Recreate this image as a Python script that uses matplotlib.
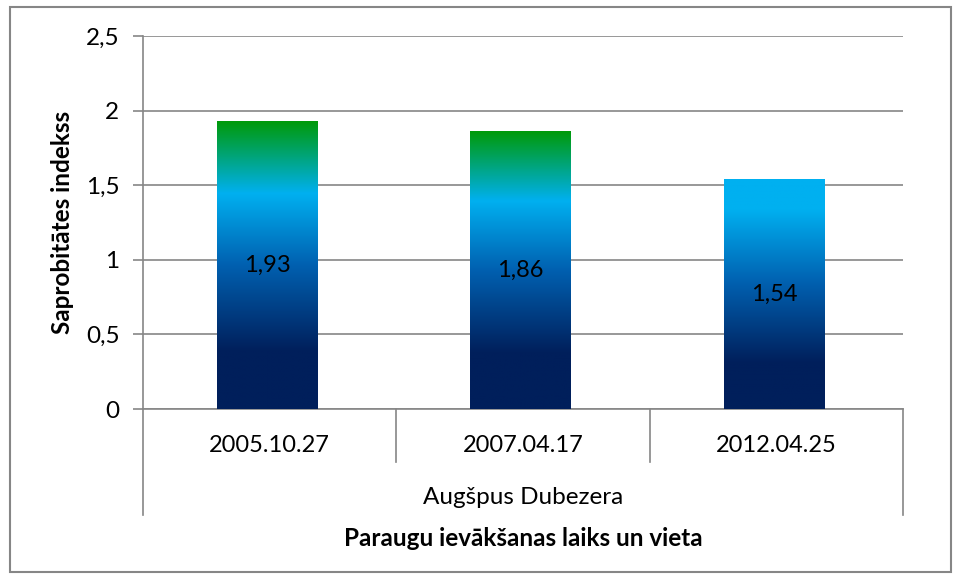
import numpy as np
import matplotlib.pyplot as plt
from matplotlib.colors import LinearSegmentedColormap
from matplotlib.patches import Rectangle
from matplotlib.lines import Line2D

dates = ["2005.10.27", "2007.04.17", "2012.04.25"]
values = [1.93, 1.86, 1.54]
site = "Augšpus Dubezera"
yticks = [0, 0.5, 1, 1.5, 2, 2.5]

plt.rcParams['font.family'] = ['Lato', 'DejaVu Sans']
grey = "#868686"

# gradient fills, relative to bar height
navy = "#001f5b"
cmap_green = LinearSegmentedColormap.from_list(
    "ocean_g", [(0, navy), (0.2, navy), (0.5, "#0060b0"), (0.75, "#00b0f0"), (1.0, "#009a0a")])
cmap_blue = LinearSegmentedColormap.from_list(
    "ocean_b", [(0, navy), (0.2, navy), (0.55, "#0060b0"), (0.87, "#00b0f0"), (1.0, "#00b0f0")])
cmaps = [cmap_green, cmap_green, cmap_blue]

fig = plt.figure(figsize=(9.61, 5.80), dpi=100)
ax = fig.add_axes([143/961, 1 - 409/580, 760/961, 373/580])

x = np.arange(len(values))
bars = ax.bar(x - 0.01, values, width=0.395, color="none", zorder=3)
grad = np.linspace(0, 1, 256).reshape(-1, 1)
for b, cm in zip(bars, cmaps):
    x0, w, h = b.get_x(), b.get_width(), b.get_height()
    ax.imshow(grad, cmap=cm, origin="lower", aspect="auto",
              extent=[x0, x0 + w, 0, h], zorder=3)

for xi, v in zip(x, values):
    ax.text(xi - 0.01, v / 2, f"{v:.2f}".replace(".", ","), ha="center", va="center",
            fontsize=17, color="black", zorder=4)

ax.set_xlim(-0.5, len(values) - 0.5)
ax.set_ylim(0, 2.5)
ax.set_yticks(yticks)
ax.set_yticklabels([f"{t:g}".replace(".", ",") for t in yticks], fontsize=17.5)
ax.yaxis.grid(True, color=grey, linewidth=1.2)
ax.set_axisbelow(True)
ax.tick_params(axis="y", length=7, color=grey, width=1.2, pad=10)
ax.tick_params(axis="x", length=0, labelbottom=False)
for s in ["top", "right"]:
    ax.spines[s].set_visible(False)
for s in ["left", "bottom"]:
    ax.spines[s].set_color(grey)
    ax.spines[s].set_linewidth(1.2)

# two-level category axis
tr = ax.get_xaxis_transform()
inner = -53 / 373
outer = -106 / 373
for sep in np.arange(len(values) + 1) - 0.5:
    end = outer if sep in (-0.5, len(values) - 0.5) else inner
    ax.add_line(Line2D([sep, sep], [0, end], transform=tr, color=grey,
                       linewidth=1.2, clip_on=False))
for xi, d in zip(x, dates):
    ax.text(xi, -36 / 373, d, transform=tr, ha="center", va="center", fontsize=17)
ax.text(np.mean(x), -88 / 373, site, transform=tr, ha="center", va="center", fontsize=17.5)

ax.text(np.mean(x), -129 / 373, "Paraugu ievākšanas laiks un vieta", transform=tr,
        ha="center", va="center", fontsize=17.5, fontweight="bold")
fig.text(62 / 961, 1 - 222 / 580, "Saprobitātes indekss", rotation=90,
         ha="center", va="center", fontsize=17.5, fontweight="bold")

# outer chart frame
fig.patches.append(Rectangle((10 / 961, 1 - 572 / 580), 941 / 961, 565 / 580,
                             transform=fig.transFigure, fill=False,
                             edgecolor=grey, linewidth=1.5))

fig.savefig("out.png", dpi=100)
